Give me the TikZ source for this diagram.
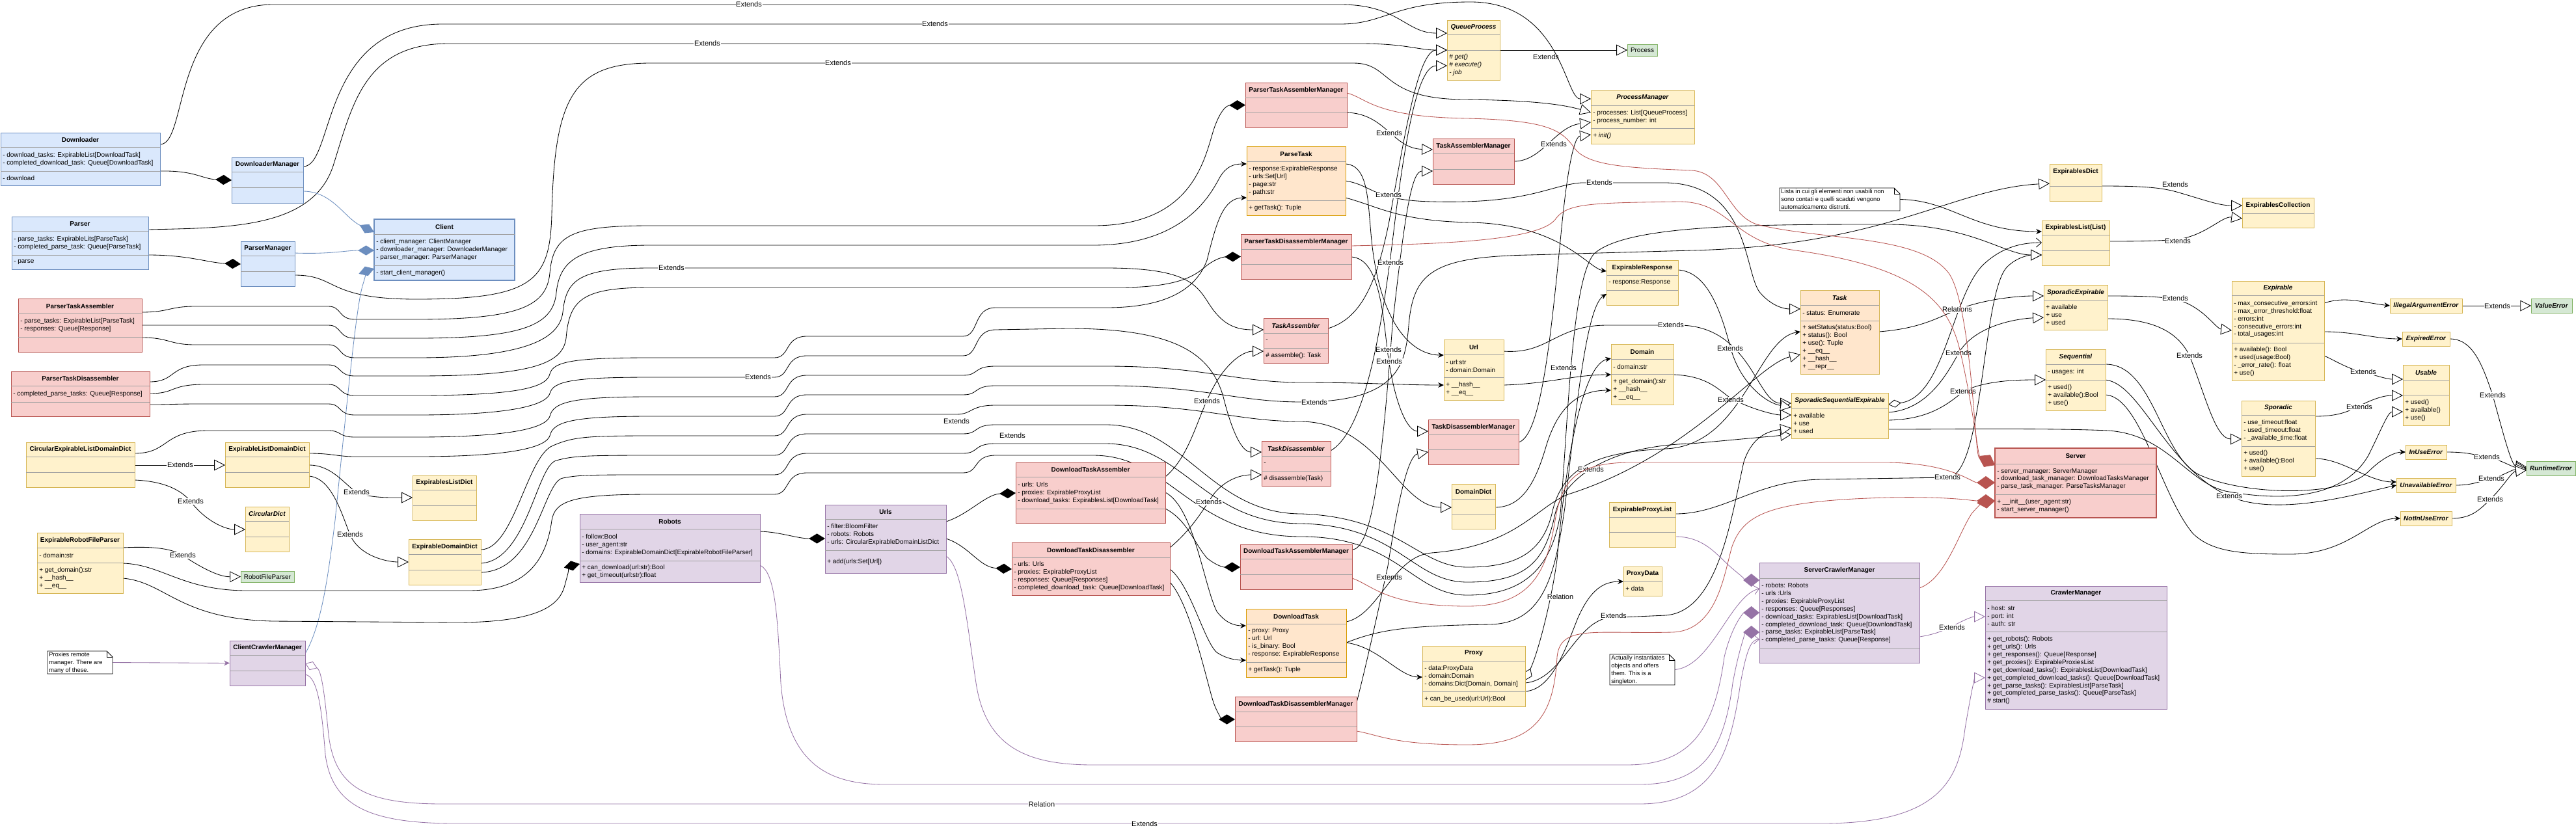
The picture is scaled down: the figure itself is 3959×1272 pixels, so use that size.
\documentclass[tikz,border=0pt]{standalone}
\usepackage{fontspec}
\setmainfont{Liberation Sans}
\usetikzlibrary{arrows.meta,calc}
\pgfdeclarelayer{bg}
\pgfsetlayers{bg,main}
\definecolor{bluF}{HTML}{DAE8FC}\definecolor{bluD}{HTML}{6C8EBF}
\definecolor{yelF}{HTML}{FFF2CC}\definecolor{yelD}{HTML}{D6B656}
\definecolor{redF}{HTML}{F8CECC}\definecolor{redD}{HTML}{B85450}
\definecolor{oraF}{HTML}{FFE6CC}\definecolor{oraD}{HTML}{D79B00}
\definecolor{grnF}{HTML}{D5E8D4}\definecolor{grnD}{HTML}{82B366}
\definecolor{purF}{HTML}{E1D5E7}\definecolor{purD}{HTML}{9673A6}
\definecolor{sepC}{HTML}{A0A0A0}
\tikzset{
 base/.style={rectangle, inner sep=0pt, outer sep=0pt, line width=0.7pt},
 bbox/.style={base, draw=bluD, fill=bluF},
 bboxT/.style={bbox, line width=1.3pt},
 ybox/.style={base, draw=yelD, fill=yelF},
 rbox/.style={base, draw=redD, fill=redF},
 rboxT/.style={rbox, line width=1.6pt},
 obox/.style={base, draw=oraD, fill=oraF},
 tbox/.style={base, draw=yelD, fill=oraF},
 gbox/.style={base, draw=grnD, fill=grnF},
 pbox/.style={base, draw=purD, fill=purF},
 ttl/.style={font=\fontsize{7.1}{8.5}\selectfont\bfseries, inner sep=0pt},
 txt/.style={font=\fontsize{7.1}{8.5}\selectfont, inner sep=0pt, anchor=west, align=left},
 notetxt/.style={font=\fontsize{6.6}{8.7}\selectfont, inner sep=0pt, anchor=north west, align=left},
 sepl/.style={draw=sepC, line width=0.7pt},
 lbl/.style={font=\fontsize{7.8}{9}\selectfont, fill=white, inner sep=0.5pt},
 con/.style={draw=black, line width=0.6pt},
 ext/.style={con, -{Triangle[fill=white, length=4.2mm, width=4.2mm]}},
 comp/.style={con, -{Diamond[length=6.2mm, width=3.8mm]}},
 arr/.style={con, -{Stealth[length=2.2mm, width=2mm]}},
 oarr/.style={con, -{Straight Barb[length=2mm, width=3.5mm]}},
 bcomp/.style={draw=bluD, line width=0.6pt, -{Diamond[length=6.2mm, width=3.8mm]}},
 rcomp/.style={draw=redD, line width=0.6pt, -{Diamond[length=7mm, width=5mm]}},
 pcomp/.style={draw=purD, line width=0.6pt, -{Diamond[length=6.2mm, width=5mm]}},
 parr/.style={draw=purD, line width=0.6pt, -{Stealth[length=2.2mm, width=2mm]}},
 poarr/.style={draw=purD, line width=0.6pt, -{Straight Barb[length=2mm, width=3.5mm]}},
 pext/.style={draw=purD, line width=0.6pt, -{Triangle[fill=white, length=4.2mm, width=4.2mm]}},
}
\newcommand\ucls[8]{%
  \node[#2, minimum width=#5*0.25mm, minimum height=#6*0.25mm, anchor=north west] (#1) at (#3,#4) {};
  \node[ttl] at ({#3+#5/2},{#4+#7/2}) {#8};}
\newcommand\usec[5]{%
  \draw[sepl] ($(#1.north west)+(0,#3)$) -- ++(#2,0);
  \node[txt] at ($(#1.north west)+(3,{(#3+#4)/2})$) {#5};}
\newcommand\unote[6]{%
  \node[inner sep=0pt, outer sep=0pt, minimum width=#4*0.25mm, minimum height=#5*0.25mm, anchor=north west] (#1) at (#2,#3) {};
  \draw[line width=0.6pt, fill=white] (#2,#3) -- ({#2+#4-9},#3) -- ({#2+#4},{#3+9}) -- ({#2+#4},{#3+#5}) -- (#2,{#3+#5}) -- cycle;
  \draw[line width=0.6pt] ({#2+#4-9},#3) -- ({#2+#4-9},{#3+9}) -- ({#2+#4},{#3+9});
  \node[notetxt] at ({#2+2},{#3+1}) {#6};}
\begin{document}
\begin{tikzpicture}[x=0.25mm, y=-0.25mm]
\useasboundingbox (0,0) rectangle (3959,1272);
% ---------------- blue
\ucls{Downloader}{bbox}{1}{204}{245}{81}{22}{Downloader}
\usec{Downloader}{245}{22}{59}{- download\_tasks: ExpirableList[DownloadTask]\\- completed\_download\_task: Queue[DownloadTask]}
\usec{Downloader}{245}{59}{81}{- download}
\ucls{DownloaderManager}{bbox}{356}{242}{110}{70}{22}{DownloaderManager}
\usec{DownloaderManager}{110}{22}{46}{}\usec{DownloaderManager}{110}{46}{70}{}
\ucls{Parser}{bbox}{18}{333}{210}{81}{22}{Parser}
\usec{Parser}{210}{22}{59}{- parse\_tasks: ExpirableLits[ParseTask]\\- completed\_parse\_task: Queue[ParseTask]}
\usec{Parser}{210}{59}{81}{- parse}
\ucls{ParserManager}{bbox}{370}{371}{83}{69}{22}{ParserManager}
\usec{ParserManager}{83}{22}{46}{}\usec{ParserManager}{83}{46}{69}{}
\ucls{Client}{bboxT}{575}{337}{216}{94}{23}{Client}
\usec{Client}{216}{23}{71}{- client\_manager: ClientManager\\- downloader\_manager: DownloaderManager\\- parser\_manager: ParserManager}
\usec{Client}{216}{71}{94}{- start\_client\_manager()}
% ---------------- red
\ucls{PTA}{rbox}{28}{459}{190}{82}{23}{ParserTaskAssembler}
\usec{PTA}{190}{23}{59}{- parse\_tasks: ExpirableList[ParseTask]\\- responses: Queue[Response]}
\usec{PTA}{190}{59}{82}{}
\ucls{PTD}{rbox}{17}{571}{213}{69}{22}{ParserTaskDisassembler}
\usec{PTD}{213}{22}{47}{- completed\_parse\_tasks: Queue[Response]}
\usec{PTD}{213}{47}{69}{}
\ucls{PTAM}{rbox}{1914}{127}{156}{69}{23}{ParserTaskAssemblerManager}
\usec{PTAM}{156}{23}{46}{}\usec{PTAM}{156}{46}{69}{}
\ucls{PTDM}{rbox}{1907}{360}{170}{69}{23}{ParserTaskDisassemblerManager}
\usec{PTDM}{170}{23}{46}{}\usec{PTDM}{170}{46}{69}{}
\ucls{TAM}{rbox}{2202}{213}{125}{70}{23}{TaskAssemblerManager}
\usec{TAM}{125}{23}{47}{}\usec{TAM}{125}{47}{70}{}
\ucls{TA}{rbox}{1942}{489}{99}{69}{23}{\textit{TaskAssembler}}
\usec{TA}{99}{23}{46}{-}\usec{TA}{99}{46}{69}{\# assemble(): Task}
\ucls{TD}{rbox}{1939}{678}{106}{69}{23}{\textit{TaskDisassembler}}
\usec{TD}{106}{23}{46}{-}\usec{TD}{106}{46}{69}{\# disassemble(Task)}
\ucls{TDM}{rbox}{2195}{645}{139}{69}{23}{TaskDisassemblerManager}
\usec{TDM}{139}{23}{46}{}\usec{TDM}{139}{46}{69}{}
\ucls{DTA}{rbox}{1561}{711}{230}{93}{22}{DownloadTaskAssembler}
\usec{DTA}{230}{22}{71}{- urls: Urls\\- proxies: ExpirableProxyList\\- download\_tasks: ExpirablesList[DownloadTask]}
\usec{DTA}{230}{71}{93}{}
\ucls{DTD}{rbox}{1555}{834}{243}{81}{23}{DownloadTaskDisassembler}
\usec{DTD}{243}{23}{81}{- urls: Urls\\- proxies: ExpirableProxyList\\- responses: Queue[Responses]\\- completed\_download\_task: Queue[DownloadTask]}
\ucls{DTAM}{rbox}{1906}{837}{172}{69}{22}{DownloadTaskAssemblerManager}
\usec{DTAM}{172}{22}{46}{}\usec{DTAM}{172}{46}{69}{}
\ucls{DTDM}{rbox}{1898}{1071}{187}{69}{23}{DownloadTaskDisassemblerManager}
\usec{DTDM}{187}{23}{46}{}\usec{DTDM}{187}{46}{69}{}
\ucls{Server}{rboxT}{3066}{689}{248}{107}{24}{Server}
\usec{Server}{248}{24}{71}{- server\_manager: ServerManager\\- download\_task\_manager: DownloadTasksManager\\- parse\_task\_manager: ParseTasksManager}
\usec{Server}{248}{71}{107}{+ \_\_init\_\_(user\_agent:str)\\- start\_server\_manager()}
% ---------------- orange
\ucls{ParseTask}{obox}{1916}{225}{152}{106}{23}{ParseTask}
\usec{ParseTask}{152}{23}{83}{- response:ExpirableResponse\\- urls:Set[Url]\\- page:str\\- path:str}
\usec{ParseTask}{152}{83}{106}{+ getTask(): Tuple}
\ucls{DownloadTask}{obox}{1915}{936}{154}{105}{23}{DownloadTask}
\usec{DownloadTask}{154}{23}{82}{- proxy: Proxy\\- url: Url\\- is\_binary: Bool\\- response: ExpirableResponse}
\usec{DownloadTask}{154}{82}{105}{+ getTask(): Tuple}
\ucls{Task}{tbox}{2767}{446}{121}{129}{23}{\textit{Task}}
\usec{Task}{121}{23}{47}{- status: Enumerate}
\usec{Task}{121}{47}{129}{+ setStatus(status:Bool)\\+ status(): Bool\\+ use(): Tuple\\+ \_\_eq\_\_\\+ \_\_hash\_\_\\+ \_\_repr\_\_}
% ---------------- yellow
\ucls{QueueProcess}{ybox}{2224}{31}{81}{92}{22}{\textit{QueueProcess}}
\usec{QueueProcess}{81}{22}{46}{}
\usec{QueueProcess}{81}{46}{92}{\textit{\# get()}\\\textit{\# execute()}\\\textit{- job}}
\ucls{ProcessManager}{ybox}{2445}{139}{159}{82}{23}{\textit{ProcessManager}}
\usec{ProcessManager}{159}{23}{58}{- processes: List[QueueProcess]\\- process\_number: int}
\usec{ProcessManager}{159}{58}{82}{\textit{+ init()}}
\ucls{ExpirablesDict}{ybox}{3150}{252}{80}{57}{23}{ExpirablesDict}
\usec{ExpirablesDict}{80}{34}{57}{}
\ucls{ExpirablesCollection}{ybox}{3446}{304}{110}{46}{24}{ExpirablesCollection}
\usec{ExpirablesCollection}{110}{24}{46}{}
\ucls{ExpirablesList}{ybox}{3138}{339}{104}{69}{22}{ExpirablesList(List)}
\usec{ExpirablesList}{104}{22}{46}{}\usec{ExpirablesList}{104}{46}{69}{}
\ucls{ExpirableResponse}{ybox}{2469}{400}{110}{69}{23}{ExpirableResponse}
\usec{ExpirableResponse}{110}{23}{46}{- response:Response}\usec{ExpirableResponse}{110}{46}{69}{}
\ucls{Url}{ybox}{2219}{522}{92}{93}{23}{Url}
\usec{Url}{92}{23}{58}{- url:str\\- domain:Domain}\usec{Url}{92}{58}{93}{+ \_\_hash\_\_\\+ \_\_eq\_\_}
\ucls{Domain}{ybox}{2476}{529}{96}{93}{23}{Domain}
\usec{Domain}{96}{23}{46}{- domain:str}\usec{Domain}{96}{46}{93}{+ get\_domain():str\\+ \_\_hash\_\_\\+ \_\_eq\_\_}
\ucls{SSE}{ybox}{2753}{604}{149}{70}{23}{\textit{SporadicSequentialExpirable}}
\usec{SSE}{149}{23}{70}{+ available\\+ use\\+ used}
\ucls{DomainDict}{ybox}{2231}{744}{67}{69}{23}{DomainDict}
\usec{DomainDict}{67}{23}{46}{}\usec{DomainDict}{67}{46}{69}{}
\ucls{EPL}{ybox}{2473}{772}{102}{69}{23}{ExpirableProxyList}
\usec{EPL}{102}{23}{46}{}\usec{EPL}{102}{46}{69}{}
\ucls{ProxyData}{ybox}{2495}{871}{59}{45}{23}{ProxyData}
\usec{ProxyData}{59}{23}{45}{+ data}
\ucls{Proxy}{ybox}{2186}{993}{158}{93}{23}{Proxy}
\usec{Proxy}{158}{23}{70}{- data:ProxyData\\- domain:Domain\\- domains:Dict[Domain, Domain]}
\usec{Proxy}{158}{70}{93}{+ can\_be\_used(url:Url):Bool}
\ucls{SE}{ybox}{3141}{438}{98}{69}{23}{\textit{SporadicExpirable}}
\usec{SE}{98}{23}{69}{+ available\\+ use\\+ used}
\ucls{Sequential}{ybox}{3144}{537}{92}{94}{23}{\textit{Sequential}}
\usec{Sequential}{92}{23}{47}{- usages: int}\usec{Sequential}{92}{47}{94}{+ used()\\+ available():Bool\\+ use()}
\ucls{Expirable}{ybox}{3430}{432}{142}{153}{22}{\textit{Expirable}}
\usec{Expirable}{142}{22}{95}{- max\_consecutive\_errors:int\\- max\_error\_threshold:float\\- errors:int\\- consecutive\_errors:int\\- total\_usages:int}
\usec{Expirable}{142}{95}{153}{+ available(): Bool\\+ used(usage:Bool)\\- \_error\_rate(): float\\+ use()}
\ucls{IAE}{ybox}{3673}{459}{111}{22}{22}{\textit{IllegalArgumentError}}
\ucls{ExpiredError}{ybox}{3692}{510}{73}{22}{22}{\textit{ExpiredError}}
\ucls{Usable}{ybox}{3693}{561}{71}{93}{23}{\textit{Usable}}
\usec{Usable}{71}{23}{46}{}\usec{Usable}{71}{46}{93}{+ used()\\+ available()\\+ use()}
\ucls{Sporadic}{ybox}{3445}{616}{113}{116}{22}{\textit{Sporadic}}
\usec{Sporadic}{113}{22}{70}{- use\_timeout:float\\- used\_timeout:float\\- \_available\_time:float}
\usec{Sporadic}{113}{70}{116}{+ used()\\+ available():Bool\\+ use()}
\ucls{InUseError}{ybox}{3697}{684}{63}{22}{22}{\textit{InUseError}}
\ucls{UnavailableError}{ybox}{3683}{735}{91}{22}{22}{\textit{UnavailableError}}
\ucls{NotInUseError}{ybox}{3689}{786}{79}{22}{22}{\textit{NotInUseError}}
\ucls{CELDD}{ybox}{40}{680}{167}{69}{22}{CircularExpirableListDomainDict}
\usec{CELDD}{167}{22}{46}{}\usec{CELDD}{167}{46}{69}{}
\ucls{ELDD}{ybox}{346}{680}{129}{69}{22}{ExpirableListDomainDict}
\usec{ELDD}{129}{22}{46}{}\usec{ELDD}{129}{46}{69}{}
\ucls{ELD}{ybox}{634}{731}{98}{69}{22}{ExpirablesListDict}
\usec{ELD}{98}{22}{46}{}\usec{ELD}{98}{46}{69}{}
\ucls{CircularDict}{ybox}{377}{779}{67}{69}{22}{\textit{CircularDict}}
\usec{CircularDict}{67}{22}{46}{}\usec{CircularDict}{67}{46}{69}{}
\ucls{ERFP}{ybox}{57}{819}{132}{93}{23}{ExpirableRobotFileParser}
\usec{ERFP}{132}{23}{46}{- domain:str}\usec{ERFP}{132}{46}{93}{+ get\_domain():str\\+ \_\_hash\_\_\\+ \_\_eq\_\_}
\ucls{EDD}{ybox}{628}{829}{111}{70}{23}{ExpirableDomainDict}
\usec{EDD}{111}{23}{47}{}\usec{EDD}{111}{47}{70}{}
% ---------------- green
\ucls{Process}{gbox}{2501}{68}{46}{18}{18}{\mdseries Process}
\ucls{ValueError}{gbox}{3890}{459}{63}{22}{22}{\textit{ValueError}}
\ucls{RuntimeError}{gbox}{3883}{709}{75}{22}{22}{\textit{RuntimeError}}
\ucls{RobotFileParser}{gbox}{370}{878}{82}{17}{17}{\mdseries RobotFileParser}
% ---------------- purple
\ucls{Robots}{pbox}{891}{790}{277}{105}{23}{Robots}
\usec{Robots}{277}{23}{72}{- follow:Bool\\- user\_agent:str\\- domains: ExpirableDomainDict[ExpirableRobotFileParser]}
\usec{Robots}{277}{72}{105}{+ can\_download(url:str):Bool\\+ get\_timeout(url:str):float}
\ucls{Urls}{pbox}{1268}{776}{186}{105}{22}{Urls}
\usec{Urls}{186}{22}{70}{- filter:BloomFilter\\- robots: Robots\\- urls: CircularExpirableDomainListDict}
\usec{Urls}{186}{70}{105}{+ add(urls:Set[Url])}
\ucls{CCM}{pbox}{353}{985}{116}{69}{22}{ClientCrawlerManager}
\usec{CCM}{116}{22}{46}{}\usec{CCM}{116}{46}{69}{}
\ucls{SCM}{pbox}{2704}{865}{246}{154}{24}{ServerCrawlerManager}
\usec{SCM}{246}{24}{131}{- robots: Robots\\- urls :Urls\\- proxies: ExpirableProxyList\\- responses: Queue[Responses]\\- download\_tasks: ExpirablesList[DownloadTask]\\- completed\_download\_task: Queue[DownloadTask]\\- parse\_tasks: ExpirableList[ParseTask]\\- completed\_parse\_tasks: Queue[Response]}
\usec{SCM}{246}{131}{154}{}
\ucls{CrawlerManager}{pbox}{3051}{901}{279}{189}{22}{CrawlerManager}
\usec{CrawlerManager}{279}{22}{70}{- host: str\\- port: int\\- auth: str}
\usec{CrawlerManager}{279}{70}{189}{+ get\_robots(): Robots\\+ get\_urls(): Urls\\+ get\_responses(): Queue[Response]\\+ get\_proxies(): ExpirableProxiesList\\+ get\_download\_tasks(): ExpirablesList[DownloadTask]\\+ get\_completed\_download\_tasks(): Queue[DownloadTask]\\+ get\_parse\_tasks(): ExpirablesList[ParseTask]\\+ get\_completed\_parse\_tasks(): Queue[ParseTask]\\\# start()}
% ---------------- notes
\unote{Note1}{2735}{289}{185}{35}{Lista in cui gli elementi non usabili non\\sono contati e quelli scaduti vengono\\automaticamente distrutti.}
\unote{Note2}{73}{1001}{100}{35}{Proxies remote\\manager. There are\\many of these.}
\unote{Note3}{2474}{1006}{100}{47}{Actually instantiates\\objects and offers\\them. This is a\\singleton.}
% ================= connectors
\begin{pgfonlayer}{bg}
\fill[white] (0,0) rectangle (3959,1272);
% top extends
\draw[ext] ($(Downloader.north east)+(0,18)$) .. controls (290,222) and (262,7) .. (420,7) -- (2060,7) node[lbl,at={(1151,7)}]{Extends} .. controls (2150,7) and (2160,51) .. ($(QueueProcess.north west)+(0,20)$);
\draw[ext] ($(DownloaderManager.north east)+(0,14)$) .. controls (515,256) and (490,37) .. (680,37) -- (2060,37) node[lbl,at={(1437,37)}]{Extends} .. controls (2130,37) and (2140,3) .. (2260,3) .. controls (2400,3) and (2405,152) .. ($(ProcessManager.north west)+(0,13)$);
\draw[ext] ($(Parser.north east)+(0,20)$) .. controls (350,350) and (480,352) .. (512,255) .. controls (542,160) and (560,67) .. (690,67) -- (2090,67) node[lbl,at={(1087,67)}]{Extends} .. controls (2160,67) and (2180,77) .. ($(QueueProcess.north west)+(0,46)$);
\draw[ext] ($(ParserManager.north east)+(0,52)$) .. controls (520,423) and (500,460) .. (640,460) .. controls (820,460) and (845,432) .. (848,330) .. controls (852,150) and (880,97) .. (1000,97) -- (2080,97) node[lbl,at={(1288,97)}]{Extends} .. controls (2140,97) and (2120,152) .. (2250,153) .. controls (2350,154) and (2400,160) .. ($(ProcessManager.north west)+(0,34)$);
\draw[ext] ($(QueueProcess.north east)+(0,46)$) -- (Process.west) node[lbl,fill=none,at={(2376,88)}]{Extends};
% blue
\draw[bcomp] ($(DownloaderManager.north east)+(0,52)$) .. controls (510,294) and (530,335) .. ($(Client.north west)+(0,20)$);
\draw[bcomp] ($(ParserManager.north east)+(0,18)$) .. controls (510,391) and (530,385) .. ($(Client.north west)+(0,48)$);
\draw[bcomp] ($(CCM.north east)+(0,20)$) .. controls (495,960) and (505,880) .. (515,800) .. controls (535,600) and (548,470) .. (557,440) .. controls (562,422) and (566,416) .. ($(Client.north west)+(0,76)$);
% left compositions
\draw[comp] ($(Downloader.north east)+(0,59)$) .. controls (300,262) and (310,275) .. ($(DownloaderManager.north west)+(0,35)$);
\draw[comp] ($(Parser.north east)+(0,59)$) .. controls (290,392) and (320,404) .. ($(ParserManager.north west)+(0,35)$);
% bundle
\draw[comp] ($(PTA.north east)+(0,21)$) .. controls (260,480) and (260,471) .. (300,471) -- (505,471) .. controls (525,471) and (520,491) .. (545,491) -- (640,491) .. controls (800,491) and (840,470) .. (845,420) .. controls (850,360) and (880,347) .. (1000,347) -- (1680,347) .. controls (1830,347) and (1850,250) .. (1865,200) .. controls (1875,170) and (1885,162) .. (PTAM.west);
\draw[arr] ($(PTA.north east)+(0,41)$) -- (505,500) .. controls (525,500) and (520,520) .. (545,520) -- (640,520) .. controls (805,520) and (850,500) .. (855,450) .. controls (860,400) and (890,377) .. (1000,377) -- (1680,377) .. controls (1820,377) and (1860,300) .. (1875,272) .. controls (1885,256) and (1895,252) .. ($(ParseTask.north west)+(0,27)$);
\draw[ext] ($(PTA.north east)+(0,60)$) .. controls (260,519) and (260,530) .. (300,530) -- (505,530) .. controls (525,530) and (520,550) .. (545,550) -- (640,550) .. controls (810,550) and (860,520) .. (865,480) .. controls (870,430) and (890,412) .. (1000,412) -- (1700,412) node[lbl,at={(1032,412)}]{Extends} .. controls (1830,412) and (1840,440) .. (1860,470) .. controls (1880,500) and (1900,507) .. ($(TA.north west)+(0,18)$);
\draw[comp] ($(PTD.north east)+(0,16)$) .. controls (270,587) and (260,562) .. (310,561) -- (505,561) .. controls (525,561) and (520,578) .. (545,578) -- (640,578) .. controls (815,578) and (865,560) .. (870,520) .. controls (875,460) and (895,442) .. (1000,442) -- (1720,442) .. controls (1820,442) and (1840,420) .. (1855,408) .. controls (1868,398) and (1880,395) .. (PTDM.west);
\draw[arr] ($(PTD.north east)+(0,34)$) .. controls (270,605) and (260,592) .. (310,591) -- (505,591) .. controls (525,591) and (520,608) .. (545,608) -- (640,608) .. controls (800,608) and (840,595) .. (845,575) .. controls (850,556) and (880,550) .. (1000,550) -- (1190,550) .. controls (1215,550) and (1205,517) .. (1240,517) -- (1480,517) .. controls (1505,517) and (1495,473) .. (1530,473) -- (1700,473) .. controls (1800,473) and (1840,440) .. (1855,400) .. controls (1870,340) and (1880,304) .. ($(ParseTask.north west)+(0,79)$);
\draw[ext] ($(PTD.north east)+(0,51)$) .. controls (270,622) and (260,621) .. (310,621) -- (505,621) .. controls (525,621) and (520,638) .. (545,638) -- (640,638) .. controls (800,638) and (840,620) .. (845,605) .. controls (850,586) and (880,580) .. (1000,580) -- (1190,580) node[lbl,at={(1165,580)}]{Extends} .. controls (1215,580) and (1205,547) .. (1240,547) -- (1480,547) .. controls (1505,547) and (1495,507) .. (1530,507) -- (1640,505) .. controls (1800,505) and (1860,540) .. (1880,610) .. controls (1895,670) and (1910,695) .. ($(TD.north west)+(0,17)$);
\draw[arr] ($(CELDD.north east)+(0,17)$) .. controls (260,697) and (250,662) .. (320,662) -- (505,662) .. controls (525,662) and (520,672) .. (545,672) -- (640,672) .. controls (800,672) and (840,655) .. (845,640) .. controls (850,618) and (880,610) .. (1000,610) -- (1190,610) .. controls (1215,610) and (1205,577) .. (1240,577) -- (1480,577) .. controls (1505,577) and (1495,563) .. (1530,563) -- (1700,563) .. controls (1850,563) and (1900,588) .. (2000,588) .. controls (2100,588) and (2150,592) .. ($(Url.north west)+(0,70)$);
\draw[ext] ($(ELDD.north east)+(0,17)$) .. controls (510,697) and (520,702) .. (545,702) -- (640,702) .. controls (800,702) and (840,685) .. (845,670) .. controls (850,648) and (880,640) .. (1000,640) -- (1190,640) .. controls (1215,640) and (1205,607) .. (1240,607) -- (1480,607) .. controls (1505,607) and (1495,593) .. (1530,593) -- (1700,593) .. controls (1850,593) and (1900,618) .. (2000,618) node[lbl,at={(2020,619)}]{Extends} .. controls (2150,618) and (2160,560) .. (2165,500) .. controls (2172,420) and (2200,395) .. (2350,392) -- (2600,385) .. controls (2900,378) and (3000,290) .. ($(ExpirablesDict.north west)+(0,30)$);
\draw[ext] ($(EDD.north east)+(0,16)$) .. controls (790,845) and (810,700) .. (850,685) .. controls (880,672) and (900,670) .. (1000,670) -- (1190,670) .. controls (1215,670) and (1205,637) .. (1240,637) -- (1470,637) node[lbl,at={(1470,648)}]{Extends} .. controls (1495,637) and (1490,623) .. (1530,623) -- (1700,623) .. controls (1850,623) and (1900,648) .. (2000,648) .. controls (2120,650) and (2150,780) .. ($(DomainDict.north west)+(0,36)$);
\draw[arr] ($(EDD.north east)+(0,37)$) .. controls (810,862) and (825,715) .. (855,708) .. controls (880,701) and (900,700) .. (1000,700) -- (1190,700) .. controls (1215,700) and (1205,667) .. (1240,667) -- (1480,667) .. controls (1505,667) and (1495,653) .. (1530,653) -- (1700,653) node[lbl,at={(1556,670)}]{Extends} .. controls (1820,653) and (1860,790) .. (2000,790) .. controls (2150,795) and (2180,872) .. (2255,872) .. controls (2330,872) and (2370,850) .. (2385,790) .. controls (2400,720) and (2450,695) .. (2560,690) .. controls (2680,685) and (2700,520) .. ($(Task.north west)+(0,64)$);
\draw[ext] ($(EDD.north east)+(0,51)$) .. controls (825,878) and (835,740) .. (865,735) .. controls (890,730) and (910,730) .. (1000,730) -- (1190,730) .. controls (1215,730) and (1205,697) .. (1240,697) -- (1480,697) .. controls (1505,697) and (1495,682) .. (1530,682) -- (1700,682) .. controls (1820,683) and (1850,805) .. (2000,805) .. controls (2150,808) and (2170,895) .. (2255,895) .. controls (2350,895) and (2375,860) .. (2390,790) .. controls (2405,730) and (2480,685) .. (2600,682) -- ($(SSE.north west)+(0,64)$) node[lbl,at={(2445,722)}]{Extends};
\draw[ext] ($(ERFP.north east)+(0,47)$) .. controls (250,868) and (280,908) .. (380,908) -- (720,908) .. controls (810,908) and (840,860) .. (848,800) .. controls (853,770) and (880,760) .. (1000,760) -- (1190,760) .. controls (1215,760) and (1205,727) .. (1240,727) -- (1480,727) .. controls (1505,727) and (1495,700) .. (1530,700) -- (1680,700) .. controls (1800,700) and (1830,825) .. (2000,825) .. controls (2150,825) and (2170,915) .. (2255,915) .. controls (2345,915) and (2385,870) .. (2398,790) .. controls (2410,650) and (2415,430) .. (2450,390) .. controls (2500,345) and (2700,345) .. (2900,345) .. controls (3030,345) and (3080,392) .. ($(ExpirablesList.north west)+(0,53)$);
% right side black
\draw[ext] ($(PTAM.north east)+(0,46)$) .. controls (2130,175) and (2140,228) .. ($(TAM.north west)+(0,17)$) node[lbl,at={(2135,205)}]{Extends};
\draw[ext] ($(DTAM.north east)+(0,8)$) .. controls (2110,845) and (2125,700) .. (2140,500) .. controls (2160,320) and (2170,263) .. ($(TAM.north west)+(0,50)$);
\draw[ext] ($(PTDM.north east)+(0,35)$) .. controls (2120,398) and (2125,480) .. (2133,545) .. controls (2145,630) and (2165,663) .. ($(TDM.north west)+(0,18)$) node[lbl,at={(2134,538)}]{Extends};
\draw[ext] ($(DTDM.north east)+(0,9)$) .. controls (2105,1000) and (2120,930) .. (2133,870) .. controls (2150,760) and (2165,700) .. ($(TDM.north west)+(0,50)$) node[lbl,at={(2135,888)}]{Extends};
\draw[ext] ($(TA.north east)+(0,16)$) .. controls (2090,490) and (2115,440) .. (2135,340) .. controls (2160,200) and (2180,77) .. ($(QueueProcess.north west)+(0,46)$);
\draw[ext] ($(TD.north east)+(0,15)$) .. controls (2100,660) and (2125,500) .. (2145,330) .. controls (2162,200) and (2180,101) .. ($(QueueProcess.north west)+(0,70)$) node[lbl,at={(2137,404)}]{Extends} node[lbl,at={(2135,556)}]{Extends};
\draw[ext] ($(TAM.north east)+(0,35)$) .. controls (2370,248) and (2390,195) .. ($(ProcessManager.north west)+(0,49)$) node[lbl,at={(2388,222)}]{Extends};
\draw[ext] ($(TDM.north east)+(0,35)$) .. controls (2370,670) and (2385,500) .. (2400,350) .. controls (2410,250) and (2420,210) .. ($(ProcessManager.north west)+(0,68)$);
\draw[ext] ($(ParseTask.north east)+(0,53)$) .. controls (2110,285) and (2110,308) .. (2200,310) .. controls (2350,314) and (2380,285) .. (2430,281) -- (2560,281) .. controls (2690,283) and (2680,420) .. (2705,450) .. controls (2725,473) and (2745,475) .. ($(Task.north west)+(0,29)$) node[lbl,at={(2134,300)}]{Extends} node[lbl,at={(2458,281)}]{Extends};
\draw[arr] ($(ParseTask.north east)+(0,79)$) .. controls (2120,318) and (2150,340) .. (2260,342) .. controls (2400,345) and (2440,412) .. ($(ExpirableResponse.north west)+(0,17)$);
\draw[arr] ($(ParseTask.north east)+(0,27)$) .. controls (2110,255) and (2100,330) .. (2112,400) .. controls (2128,500) and (2170,546) .. ($(Url.north west)+(0,24)$);
\draw[ext] ($(DTA.north east)+(0,22)$) .. controls (1830,700) and (1840,640) .. (1865,595) .. controls (1885,558) and (1910,540) .. ($(TA.north west)+(0,51)$) node[lbl,at={(1855,617)}]{Extends};
\draw[ext] ($(DTD.north east)+(0,8)$) .. controls (1830,815) and (1845,790) .. (1865,760) .. controls (1885,735) and (1910,730) .. ($(TD.north west)+(0,52)$) node[lbl,at={(1858,772)}]{Extends};
\draw[comp] ($(DTA.north east)+(0,71)$) .. controls (1825,800) and (1835,835) .. (1855,858) .. controls (1870,870) and (1880,872) .. ($(DTAM.north west)+(0,35)$);
\draw[arr] ($(DTA.north east)+(0,46)$) .. controls (1835,780) and (1850,900) .. (1870,940) .. controls (1885,960) and (1900,962) .. ($(DownloadTask.north west)+(0,26)$);
\draw[arr] ($(DTD.north east)+(0,41)$) .. controls (1830,900) and (1850,985) .. (1870,1003) .. controls (1885,1013) and (1900,1015) .. ($(DownloadTask.north west)+(0,79)$);
\draw[comp] ($(DTD.north east)+(0,61)$) .. controls (1830,930) and (1855,1050) .. (1865,1080) .. controls (1872,1100) and (1880,1106) .. ($(DTDM.north west)+(0,35)$);
\draw[comp] ($(Robots.north east)+(0,27)$) .. controls (1200,818) and (1225,828) .. ($(Urls.north west)+(0,52)$);
\draw[comp] ($(Urls.north east)+(0,26)$) .. controls (1490,790) and (1515,760) .. ($(DTA.north west)+(0,47)$);
\draw[comp] ($(Urls.north east)+(0,52)$) .. controls (1490,840) and (1505,872) .. ($(DTD.north west)+(0,41)$);
\draw[comp] ($(ERFP.north east)+(0,70)$) .. controls (255,895) and (275,952) .. (420,955) -- (700,957) .. controls (830,957) and (860,930) .. (868,900) .. controls (873,880) and (878,870) .. ($(Robots.north west)+(0,77)$);
\draw[ext] ($(ELDD.north east)+(0,52)$) .. controls (510,735) and (525,790) .. (538,822) .. controls (552,855) and (595,864) .. ($(EDD.north west)+(0,35)$) node[lbl,at={(538,822)}]{Extends};
\draw[ext] ($(CELDD.north east)+(0,35)$) -- ($(ELDD.north west)+(0,35)$) node[lbl,at={(277,715)}]{Extends};
\draw[ext] ($(CELDD.north east)+(0,58)$) .. controls (255,740) and (280,755) .. (293,771) .. controls (315,800) and (345,814) .. ($(CircularDict.north west)+(0,35)$) node[lbl,at={(293,771)}]{Extends};
\draw[ext] ($(ELDD.north east)+(0,35)$) .. controls (510,715) and (530,745) .. (548,757) .. controls (570,766) and (600,765) .. ($(ELD.north west)+(0,34)$) node[lbl,at={(548,757)}]{Extends};
\draw[ext] ($(ERFP.north east)+(0,23)$) .. controls (230,840) and (262,842) .. (281,854) .. controls (305,870) and (335,887) .. (RobotFileParser.west) node[lbl,at={(281,854)}]{Extends};
\draw[ext] ($(Url.north east)+(0,18)$) .. controls (2380,545) and (2390,500) .. (2470,500) -- (2580,500) .. controls (2690,500) and (2700,620) .. ($(SSE.north west)+(0,16)$) node[lbl,at={(2568,500)}]{Extends};
\draw[arr] ($(Url.north east)+(0,70)$) .. controls (2380,590) and (2420,576) .. ($(Domain.north west)+(0,47)$) node[lbl,at={(2403,566)}]{Extends};
\draw[ext] ($(Domain.north east)+(0,47)$) .. controls (2630,578) and (2645,605) .. (2665,615) .. controls (2700,632) and (2730,638) .. ($(SSE.north west)+(0,34)$) node[lbl,at={(2660,615)}]{Extends};
\draw[ext] ($(ExpirableResponse.north east)+(0,15)$) .. controls (2625,418) and (2645,480) .. (2660,536) .. controls (2675,590) and (2715,620) .. ($(SSE.north west)+(0,22)$) node[lbl,at={(2659,536)}]{Extends};
\draw[ext] ($(DownloadTask.north east)+(0,20)$) .. controls (2120,945) and (2140,855) .. (2200,850) .. controls (2330,840) and (2360,780) .. (2410,760) .. controls (2600,700) and (2700,560) .. ($(Task.north west)+(0,99)$);
\draw[arr] ($(DownloadTask.north east)+(0,52)$) .. controls (2120,995) and (2150,1041) .. ($(Proxy.north west)+(0,48)$);
\draw[arr] ($(DownloadTask.north east)+(0,52)$) .. controls (2120,968) and (2160,962) .. (2290,960) .. controls (2375,958) and (2390,880) .. (2405,780) .. controls (2425,600) and (2440,470) .. ($(ExpirableResponse.north west)+(0,52)$);
\draw[ext] ($(Proxy.north east)+(0,57)$) .. controls (2400,1045) and (2420,960) .. (2470,950) -- (2560,946) .. controls (2640,940) and (2660,800) .. (2680,710) .. controls (2695,665) and (2725,662) .. ($(SSE.north west)+(0,54)$) node[lbl,at={(2480,947)}]{Extends};
\draw[con, {Diamond[fill=white, length=5mm, width=3.5mm]}-{Stealth[length=2.2mm, width=2mm]}] ($(Proxy.north east)+(0,53)$) .. controls (2365,1000) and (2385,920) .. (2393,860) .. controls (2405,720) and (2430,560) .. ($(Domain.north west)+(0,22)$) node[lbl,at={(2398,918)}]{Relation};
\draw[arr] ($(Proxy.north east)+(0,70)$) .. controls (2385,1060) and (2405,1000) .. (2425,950) .. controls (2445,905) and (2465,894) .. ($(ProxyData.north west)+(0,23)$);
\draw[arr] ($(DomainDict.north east)+(0,36)$) .. controls (2340,780) and (2360,740) .. (2375,690) .. controls (2395,620) and (2430,600) .. ($(Domain.north west)+(0,71)$);
\draw[ext] ($(EPL.north east)+(0,18)$) .. controls (2650,790) and (2700,738) .. (2800,737) -- (2993,734) node[lbl,at={(2993,734)}]{Extends} .. controls (3050,732) and (3045,450) .. (3085,410) .. controls (3100,395) and (3120,392) .. ($(ExpirablesList.north west)+(0,53)$);
\draw[con, {Diamond[fill=white, length=5mm, width=3mm]}-{Straight Barb[length=2mm, width=3.5mm]}] ($(SSE.north east)+(0,18)$) .. controls (2990,610) and (3000,450) .. (3050,405) .. controls (3080,378) and (3110,373) .. ($(ExpirablesList.north west)+(0,34)$);
\draw[arr] (Note1.east) .. controls (3000,308) and (3030,356) .. ($(ExpirablesList.north west)+(0,17)$);
\draw[ext] ($(ExpirablesDict.north east)+(0,34)$) .. controls (3290,286) and (3320,288) .. (3345,295) .. controls (3390,308) and (3410,316) .. ($(ExpirablesCollection.north west)+(0,12)$) node[lbl,at={(3343,284)}]{Extends};
\draw[ext] ($(ExpirablesList.north east)+(0,32)$) .. controls (3300,371) and (3325,370) .. (3347,368) .. controls (3390,362) and (3415,332) .. ($(ExpirablesCollection.north west)+(0,32)$) node[lbl,at={(3347,371)}]{Extends};
\draw[ext] ($(Task.north east)+(0,64)$) .. controls (2950,505) and (2975,490) .. (3008,476) .. controls (3050,460) and (3100,455) .. ($(SE.north west)+(0,17)$) node[lbl,at={(3008,476)}]{Relations};
\draw[ext] ($(SSE.north east)+(0,30)$) .. controls (2960,630) and (2990,580) .. (3010,543) .. controls (3035,500) and (3100,490) .. ($(SE.north west)+(0,50)$) node[lbl,at={(3010,543)}]{Extends};
\draw[ext] ($(SSE.north east)+(0,42)$) .. controls (2960,645) and (2990,625) .. (3017,602) .. controls (3050,585) and (3100,584) .. ($(Sequential.north west)+(0,47)$) node[lbl,at={(3017,602)}]{Extends};
\draw[ext] ($(SSE.north east)+(0,56)$) .. controls (3000,660) and (3150,658) .. (3240,662) .. controls (3330,668) and (3360,740) .. (3420,755) .. controls (3500,770) and (3600,770) .. (3640,700) .. controls (3660,660) and (3670,633) .. ($(Usable.north west)+(0,72)$);
\draw[ext] ($(SE.north east)+(0,17)$) .. controls (3290,455) and (3320,456) .. (3343,460) .. controls (3385,470) and (3405,505) .. ($(Expirable.north west)+(0,76)$) node[lbl,at={(3343,459)}]{Extends};
\draw[ext] ($(SE.north east)+(0,52)$) .. controls (3300,490) and (3345,505) .. (3365,547) .. controls (3390,610) and (3405,675) .. ($(Sporadic.north west)+(0,59)$) node[lbl,at={(3365,547)}]{Extends};
\draw[arr] ($(Sequential.north east)+(0,23)$) .. controls (3310,560) and (3320,700) .. (3380,730) .. controls (3450,762) and (3600,765) .. (3640,725) .. controls (3660,705) and (3680,695) .. (InUseError.west);
\draw[arr] ($(Sequential.north east)+(0,47)$) .. controls (3290,590) and (3330,720) .. (3426,763) .. controls (3500,795) and (3620,760) .. (UnavailableError.west) node[lbl,at={(3426,763)}]{Extends};
\draw[arr] ($(Sequential.north east)+(0,70)$) .. controls (3290,610) and (3320,760) .. (3370,820) .. controls (3400,850) and (3450,852) .. (3520,852) .. controls (3610,852) and (3640,797) .. (NotInUseError.west);
\draw[ext] ($(Sporadic.north east)+(0,24)$) .. controls (3595,640) and (3610,632) .. (3626,624) .. controls (3650,612) and (3665,608) .. ($(Usable.north west)+(0,47)$) node[lbl,at={(3626,626)}]{Extends};
\draw[arr] ($(Sporadic.north east)+(0,89)$) .. controls (3600,705) and (3640,741) .. ($(UnavailableError.north west)+(0,6)$);
\draw[arr] ($(Expirable.north east)+(0,34)$) .. controls (3605,455) and (3630,465) .. (IAE.west);
\draw[arr] ($(Expirable.north east)+(0,78)$) .. controls (3620,510) and (3650,521) .. (ExpiredError.west);
\draw[ext] ($(Expirable.north east)+(0,115)$) .. controls (3590,555) and (3610,568) .. (3632,572) .. controls (3660,580) and (3670,583) .. ($(Usable.north west)+(0,22)$) node[lbl,at={(3632,572)}]{Extends};
\draw[ext] (IAE.east) -- (ValueError.west) node[lbl,at={(3838,471)}]{Extends};
\draw[ext] (ExpiredError.east) .. controls (3800,521) and (3815,560) .. (3831,608) .. controls (3848,670) and (3860,716) .. ($(RuntimeError.west)+(0,-2)$) node[lbl,at={(3831,608)}]{Extends};
\draw[ext] (InUseError.east) .. controls (3795,695) and (3805,700) .. (3822,703) .. controls (3845,707) and (3860,718) .. (RuntimeError.west) node[lbl,at={(3822,703)}]{Extends};
\draw[ext] (UnavailableError.east) .. controls (3800,746) and (3810,740) .. (3829,736) .. controls (3850,730) and (3860,722) .. ($(RuntimeError.west)+(0,1)$) node[lbl,at={(3829,736)}]{Extends};
\draw[ext] (NotInUseError.east) .. controls (3800,797) and (3812,782) .. (3827,768) .. controls (3850,745) and (3860,725) .. ($(RuntimeError.west)+(0,3)$) node[lbl,at={(3827,768)}]{Extends};
% red to Server
\draw[rcomp] ($(PTAM.north east)+(0,16)$) .. controls (2100,150) and (2110,180) .. (2255,182) .. controls (2380,185) and (2400,200) .. (2420,228) .. controls (2440,255) and (2500,258) .. (2600,262) .. controls (2650,265) and (2655,330) .. (2700,345) .. controls (2800,370) and (2950,360) .. (2995,420) .. controls (3030,470) and (3035,700) .. ($(Server.north west)+(0,26)$);
\draw[rcomp] ($(PTDM.north east)+(0,18)$) .. controls (2200,375) and (2370,372) .. (2392,335) .. controls (2410,312) and (2450,312) .. (2580,310) .. controls (2660,310) and (2660,372) .. (2760,385) .. controls (2940,410) and (2990,460) .. (3010,530) .. controls (3030,610) and (3040,700) .. ($(Server.north west)+(0,26)$);
\draw[rcomp] ($(DTAM.north east)+(0,52)$) .. controls (2110,900) and (2130,932) .. (2255,932) .. controls (2360,932) and (2378,870) .. (2390,800) .. controls (2400,740) and (2420,713) .. (2500,711) -- (2900,711) .. controls (3000,712) and (3030,742) .. ($(Server.north west)+(0,53)$);
\draw[rcomp] ($(DTDM.north east)+(0,53)$) .. controls (2120,1130) and (2140,1145) .. (2255,1145) .. controls (2360,1145) and (2388,1100) .. (2393,1010) .. controls (2398,960) and (2450,975) .. (2570,972) .. controls (2640,970) and (2650,880) .. (2662,840) .. controls (2680,790) and (2720,770) .. (2900,765) .. controls (3000,763) and (3030,770) .. ($(Server.north west)+(0,81)$);
\draw[rcomp] ($(SCM.north east)+(0,39)$) .. controls (2990,890) and (3010,820) .. (3030,790) .. controls (3042,775) and (3050,772) .. ($(Server.north west)+(0,81)$);
% purple
\draw[parr] (Note2.east) -- (CCM.west);
\draw[draw=purD, line width=0.6pt, {Diamond[fill=white, length=5mm, width=3.5mm]}-{Straight Barb[length=2mm, width=3.5mm]}] ($(CCM.north east)+(0,35)$) .. controls (495,1030) and (500,1080) .. (505,1130) .. controls (515,1210) and (560,1236) .. (680,1236) -- (2520,1236) .. controls (2640,1236) and (2660,1150) .. (2675,1050) .. controls (2685,995) and (2692,983) .. ($(SCM.north west)+(0,118)$) node[lbl,at={(1601,1237)}]{Relation};
\draw[pext] ($(CCM.north east)+(0,52)$) .. controls (490,1040) and (495,1100) .. (500,1160) .. controls (510,1240) and (570,1266) .. (700,1266) -- (2800,1266) .. controls (2980,1266) and (3010,1200) .. (3020,1120) .. controls (3030,1060) and (3035,1042) .. ($(CrawlerManager.north west)+(0,141)$) node[lbl,at={(1759,1267)}]{Extends};
\draw[pcomp] ($(Robots.north east)+(0,79)$) .. controls (1192,880) and (1195,950) .. (1200,1050) .. controls (1210,1180) and (1280,1206) .. (1360,1206) -- (2520,1206) .. controls (2620,1206) and (2650,1150) .. (2663,1050) .. controls (2675,985) and (2685,972) .. ($(SCM.north west)+(0,107)$);
\draw[pcomp] ($(Urls.north east)+(0,79)$) .. controls (1478,870) and (1485,950) .. (1500,1050) .. controls (1515,1150) and (1580,1176) .. (1680,1176) -- (2500,1176) .. controls (2600,1176) and (2635,1120) .. (2650,1010) .. controls (2662,960) and (2680,942) .. ($(SCM.north west)+(0,77)$);
\draw[pcomp] ($(EPL.north east)+(0,53)$) .. controls (2620,825) and (2640,855) .. (2660,872) .. controls (2675,885) and (2685,892) .. ($(SCM.north west)+(0,27)$);
\draw[poarr] (Note3.east) .. controls (2630,1025) and (2660,915) .. ($(SCM.north west)+(0,40)$);
\draw[pext] ($(SCM.north east)+(0,114)$) .. controls (2975,975) and (2985,970) .. (3000,963) .. controls (3015,955) and (3030,948) .. ($(CrawlerManager.north west)+(0,47)$) node[lbl,at={(3000,965)}]{Extends};
\end{pgfonlayer}
\end{tikzpicture}
\end{document}
